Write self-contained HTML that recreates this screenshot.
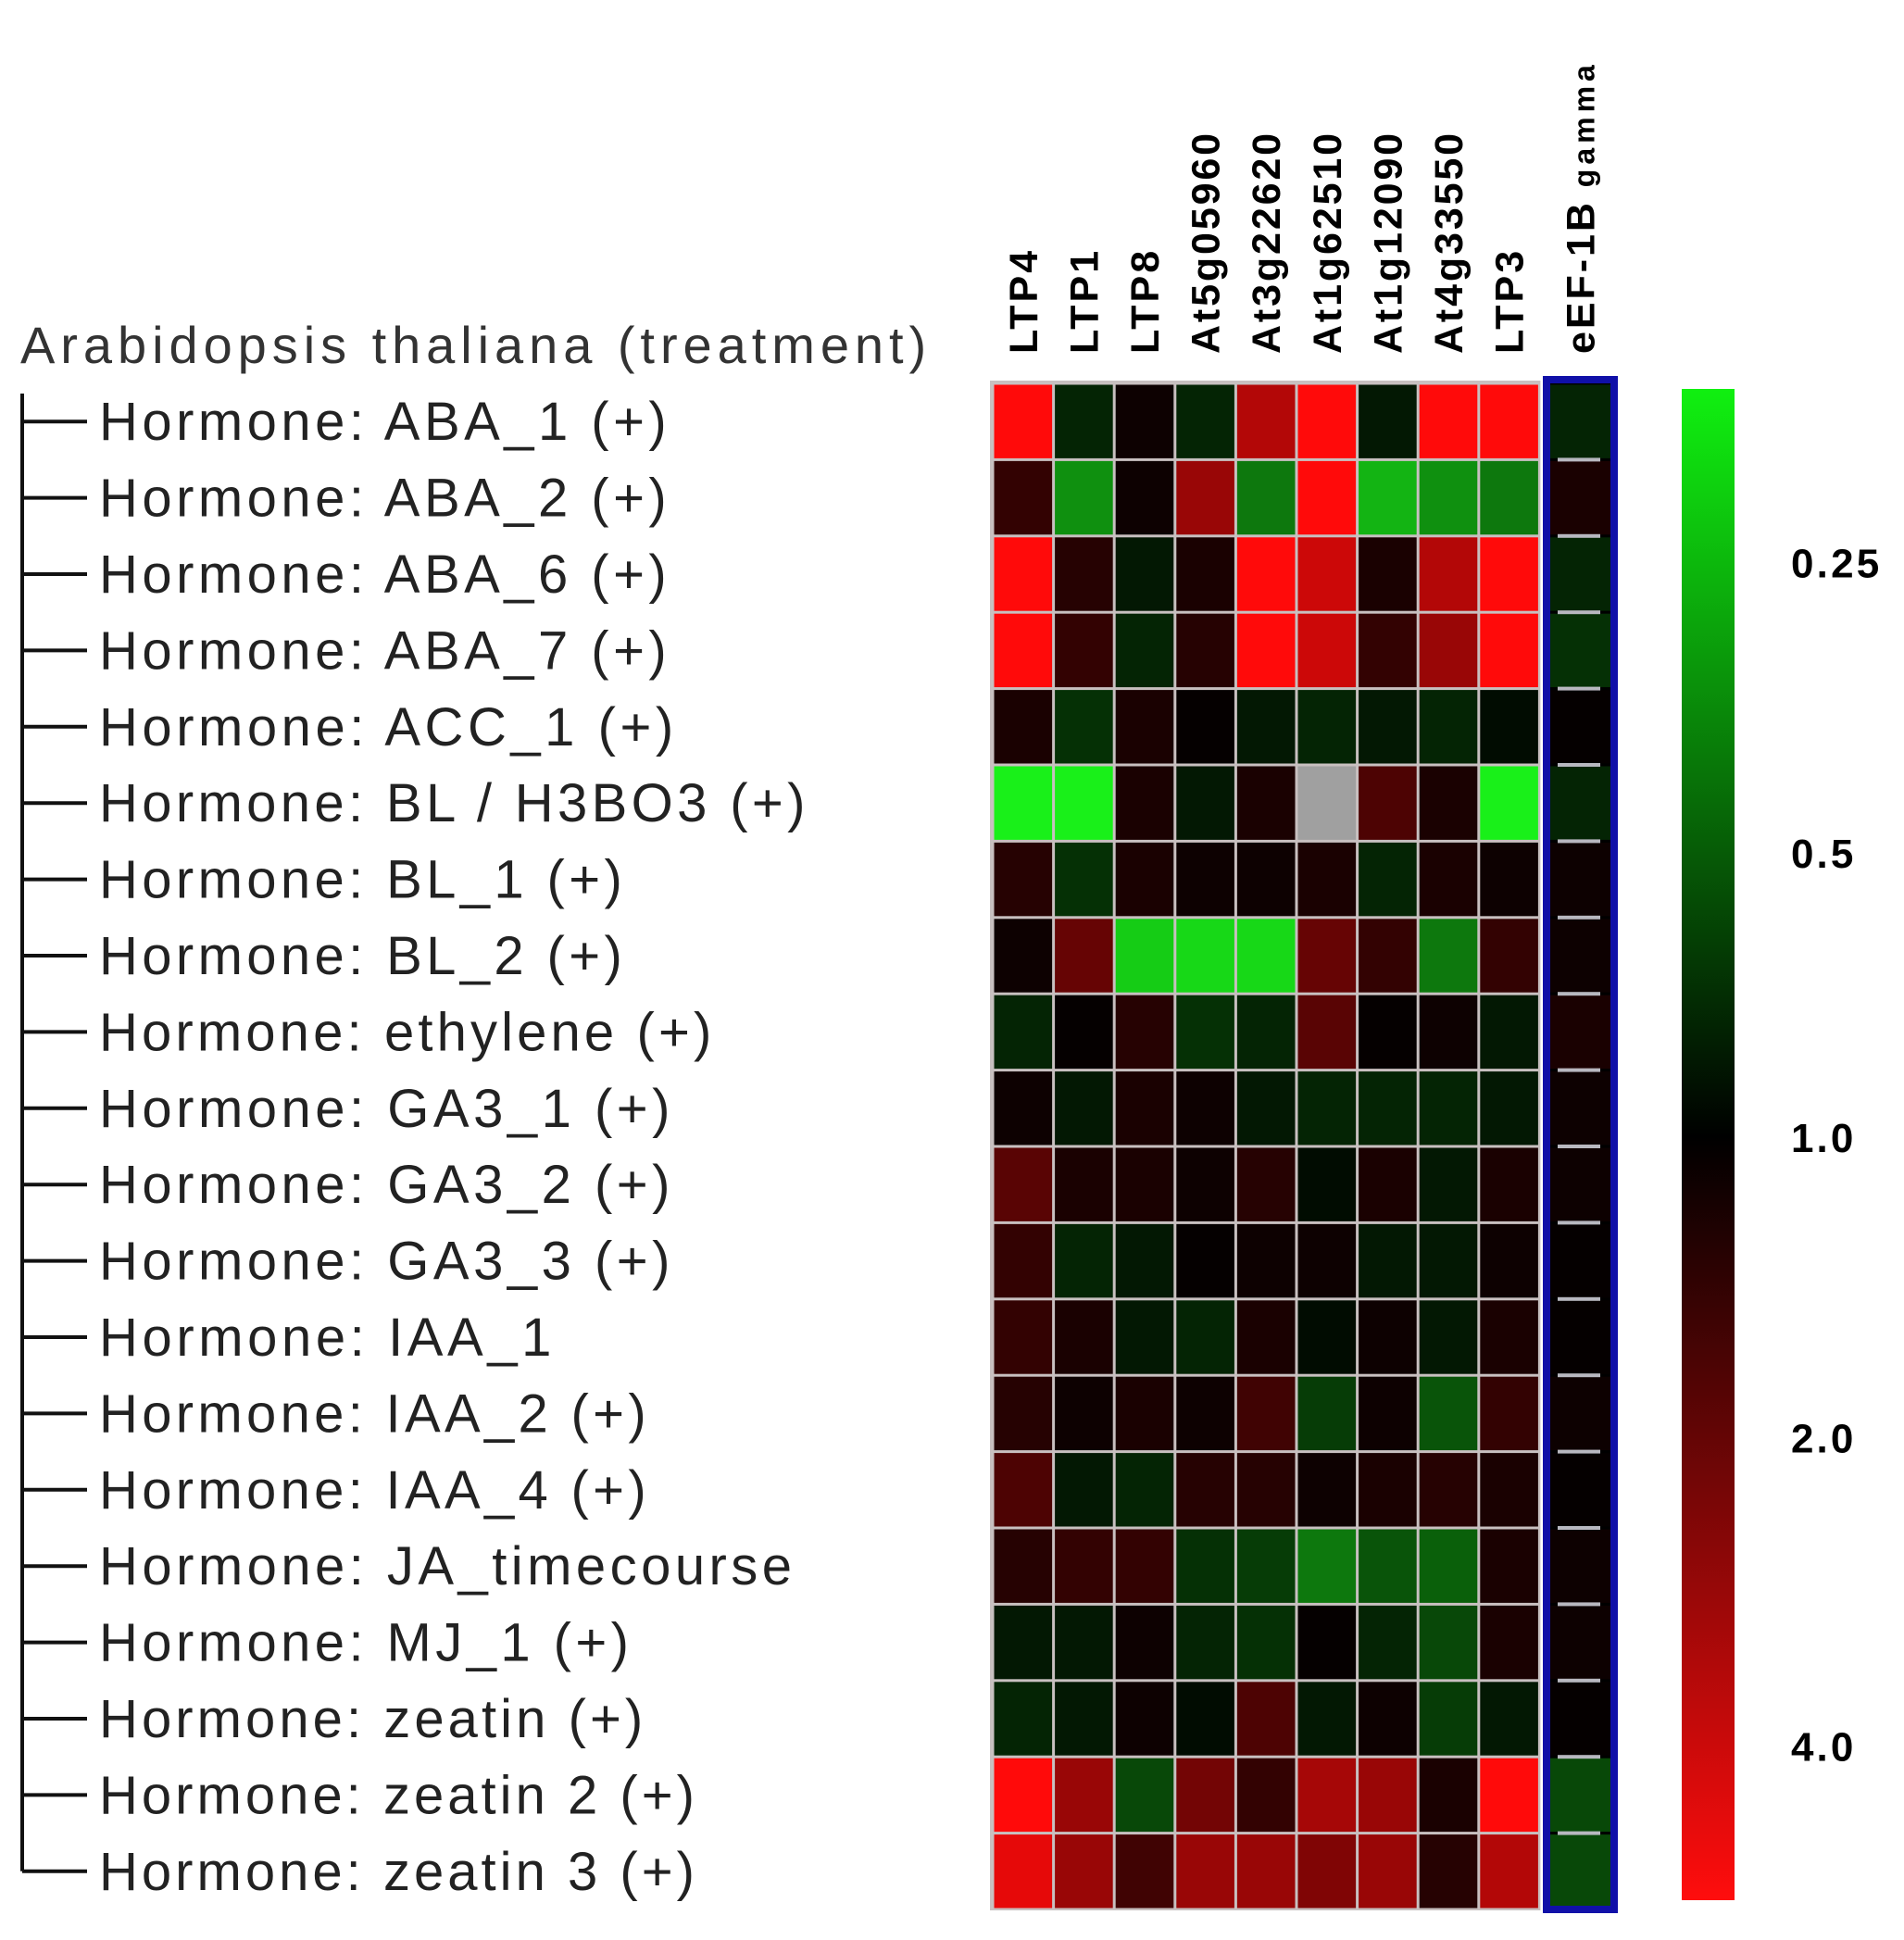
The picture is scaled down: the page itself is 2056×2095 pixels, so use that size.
<!DOCTYPE html>
<html><head><meta charset="utf-8"><style>
html,body{margin:0;padding:0;background:#fff;}
svg{display:block;font-family:"Liberation Sans",Arial,sans-serif;}
</style></head><body>
<svg id="chart" width="2056" height="2095" viewBox="0 0 2056 2095" xmlns="http://www.w3.org/2000/svg">
<defs>
<linearGradient id="cbar" x1="0" y1="0" x2="0" y2="1">
<stop offset="0" stop-color="#10f010"/>
<stop offset="0.495" stop-color="#000000"/>
<stop offset="1" stop-color="#ff0d0d"/>
</linearGradient>
</defs>
<text id="title" x="22" y="392" font-size="56" fill="#333">Arabidopsis thaliana (treatment)</text>
<g id="tree"></g>
<g id="collabels"></g>
<g id="cells"></g>
<rect x="1670" y="410" width="73" height="1652" fill="none" stroke="#1010a8" stroke-width="8"/>
<rect x="1816" y="420" width="57" height="1632" fill="url(#cbar)"/>
<g id="scale"></g>
</svg>
<script>
const rows = ["Hormone: ABA_1 (+)","Hormone: ABA_2 (+)","Hormone: ABA_6 (+)","Hormone: ABA_7 (+)","Hormone: ACC_1 (+)","Hormone: BL / H3BO3 (+)","Hormone: BL_1 (+)","Hormone: BL_2 (+)","Hormone: ethylene (+)","Hormone: GA3_1 (+)","Hormone: GA3_2 (+)","Hormone: GA3_3 (+)","Hormone: IAA_1","Hormone: IAA_2 (+)","Hormone: IAA_4 (+)","Hormone: JA_timecourse","Hormone: MJ_1 (+)","Hormone: zeatin (+)","Hormone: zeatin 2 (+)","Hormone: zeatin 3 (+)"];
const cols = ["LTP4","LTP1","LTP8","At5g05960","At3g22620","At1g62510","At1g12090","At4g33550","LTP3","eEF-1B"];
const values = [
[1,-0.15,0.05,-0.15,0.7,1,-0.1,1,1,-0.15],
[0.2,-0.6,0.05,0.6,-0.5,1,-0.75,-0.6,-0.5,0.1],
[1,0.15,-0.1,0.1,1,0.8,0.1,0.7,1,-0.15],
[1,0.2,-0.15,0.15,1,0.8,0.2,0.6,1,-0.2],
[0.1,-0.2,0.1,0.02,-0.1,-0.15,-0.1,-0.15,-0.05,0.02],
[-1,-1,0.1,-0.1,0.1,null,0.3,0.1,-1,-0.15],
[0.15,-0.2,0.1,0.05,0.05,0.1,-0.15,0.1,0.05,0.05],
[0.05,0.4,-0.85,-0.9,-0.9,0.4,0.2,-0.5,0.2,0.05],
[-0.15,0.02,0.15,-0.2,-0.15,0.35,0.02,0.05,-0.1,0.1],
[0.05,-0.1,0.1,0.05,-0.1,-0.15,-0.15,-0.15,-0.1,0.05],
[0.35,0.1,0.1,0.05,0.15,-0.05,0.1,-0.1,0.1,0.05],
[0.2,-0.15,-0.1,0.02,0.05,0.05,-0.1,-0.1,0.05,0.02],
[0.2,0.1,-0.1,-0.15,0.1,-0.05,0.05,-0.1,0.1,0.02],
[0.15,0.05,0.1,0.05,0.25,-0.25,0.05,-0.35,0.2,0.05],
[0.3,-0.1,-0.15,0.15,0.15,0.05,0.1,0.15,0.1,0.02],
[0.15,0.2,0.2,-0.2,-0.25,-0.5,-0.35,-0.4,0.1,0.05],
[-0.1,-0.1,0.05,-0.15,-0.2,0.02,-0.15,-0.3,0.1,0.05],
[-0.15,-0.1,0.05,-0.05,0.3,-0.1,0.05,-0.25,-0.1,0.02],
[1,0.6,-0.3,0.45,0.2,0.65,0.6,0.1,1,-0.3],
[0.9,0.6,0.25,0.6,0.6,0.5,0.6,0.15,0.7,-0.3]];
const scaleLabels = ["0.25","0.5","1.0","2.0","4.0"];
const scaleFrac = [0.115,0.307,0.495,0.694,0.898];

const NS="http://www.w3.org/2000/svg";
const X0=1072, Y0=414, CW=65.6, RH=82.4;
const xPos = c => c<9 ? X0+c*CW : 1674;
const cWidth = c => c<9 ? CW : 65;
const yPos = r => Y0+r*RH;
function color(v){
  if(v===null) return "#a0a0a0";
  const a=Math.min(1,Math.abs(v));
  return v>0 ? `rgb(${Math.round(255*a)},${Math.round(10*a)},${Math.round(10*a)})` : `rgb(${Math.round(25*a)},${Math.round(240*a)},${Math.round(25*a)})`;
}
function mk(tag,attrs,parent){const e=document.createElementNS(NS,tag);for(const k in attrs)e.setAttribute(k,attrs[k]);parent.appendChild(e);return e;}
function spread(t,ratio){const n=t.textContent.length;const L=t.getComputedTextLength();t.setAttribute('letter-spacing',(L*(ratio-1)/n).toFixed(2));}

spread(document.getElementById('title'),1.24);

const cellsG=document.getElementById('cells');
mk('rect',{x:X0-3,y:Y0-3,width:9*CW+4,height:20*RH+4,fill:'#c8c0c0'},cellsG);
mk('rect',{x:1674,y:Y0,width:65,height:20*RH,fill:'#000'},cellsG);
values.forEach((row,r)=>row.forEach((v,c)=>{
  const g=c<9?3:0;
  const el=mk('rect',{x:xPos(c)+g/2,y:yPos(r)+1.5,width:cWidth(c)-g,height:RH-3,fill:color(v)},cellsG);
  
  
}));
for(let r=1;r<20;r++){mk('rect',{x:1682,y:yPos(r)-2,width:46,height:4,fill:'#b8b8c0'},cellsG);}

const tree=document.getElementById('tree');
mk('line',{x1:24,y1:425,x2:24,y2:yPos(19)+RH/2,stroke:'#111','stroke-width':4},tree);
rows.forEach((name,r)=>{
  const cy=yPos(r)+RH/2;
  mk('line',{x1:24,y1:cy,x2:94,y2:cy,stroke:'#111','stroke-width':4},tree);
  const t=mk('text',{x:107,y:cy+20,'font-size':58,fill:'#222'},tree);
  t.textContent=name;
  
  
  spread(t,1.15);
});

const cl=document.getElementById('collabels');
cols.forEach((name,c)=>{
  const cx=xPos(c)+cWidth(c)/2+15;
  const t=mk('text',{transform:`translate(${cx},382) rotate(-90)`,'font-size':43,'font-weight':'bold',fill:'#000'},cl);
  t.textContent=name;
  
  
  spread(t,1.12);
  if(c===9){const s=document.createElementNS(NS,'tspan');s.setAttribute('font-size','32');s.setAttribute('letter-spacing','5');s.textContent=' gamma';t.appendChild(s);}
});

const sc=document.getElementById('scale');
scaleLabels.forEach((lab,i)=>{
  const t=mk('text',{x:1934,y:420+scaleFrac[i]*1632+16,'font-size':44,'font-weight':'bold',fill:'#000'},sc);
  t.textContent=lab;
  
  
  spread(t,1.15);
});
</script>
</body></html>
